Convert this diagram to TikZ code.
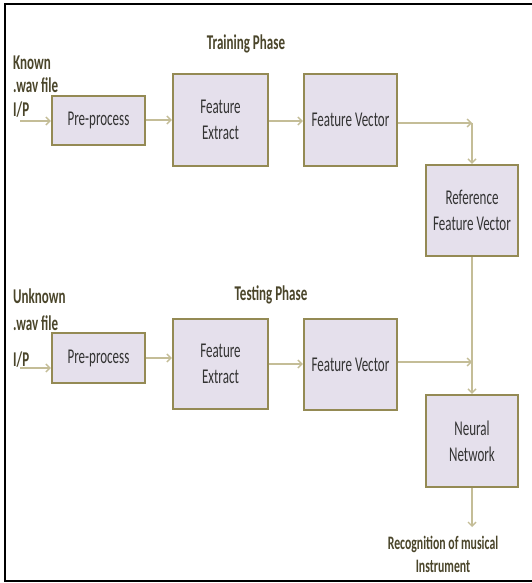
\documentclass[tikz,border=0pt]{standalone}
\usepackage{fontspec}
\usetikzlibrary{arrows.meta}
\newfontfamily\cf[FakeStretch=0.62]{Carlito}
\definecolor{boxfill}{HTML}{E5E0EC}
\definecolor{boxline}{HTML}{948A54}
\definecolor{arrline}{HTML}{C4BD97}
\definecolor{lbl}{HTML}{4A452A}
\definecolor{boxtxt}{HTML}{333333}
\tikzset{
  blk/.style={draw=boxline, line width=2.2pt, fill=boxfill, text=boxtxt,
    font=\cf\fontsize{21}{26}\selectfont, align=center, inner sep=0pt,
    minimum width=93pt},
  conn/.style={draw=arrline, line width=1.4pt, -{Straight Barb[length=4pt,width=8pt]}},
  lab/.style={text=lbl, font=\cf\bfseries\fontsize{21}{24}\selectfont, inner sep=0pt, anchor=base west},
  ttl/.style={text=lbl, font=\cf\bfseries\fontsize{21}{24}\selectfont, inner sep=0pt, anchor=base}
}
\begin{document}
\begin{tikzpicture}[x=1pt,y=-1pt]
\useasboundingbox (0,0) rectangle (532,583);
\fill[white] (0,0) rectangle (532,583);
\draw[black, line width=2.5pt] (532,4) -- (5,4) -- (5,581) -- (532,581);

% training
\node[ttl] (tp) at (246,50) {Training Phase};
\node[lab] (k1) at (13,70) {Known};
\node[lab] (k2) at (13,93) {.wav file};
\node[lab] (k3) at (13,117) {I/P};
\node[blk, minimum height=49pt] (pre1) at (98.5,120.5) {Pre-process};
\node[blk, minimum width=95pt, minimum height=92pt] (fe1) at (220.5,120) {Feature\\Extract};
\node[blk, minimum height=92pt] (fv1) at (350.5,120) {Feature Vector};
\node[blk, minimum width=92pt, minimum height=91pt] (ref) at (472,210.5) {Reference\\Feature Vector};
\coordinate (in1) at (20,121);
\coordinate (c1) at (472,123);
\draw[conn] (in1) -- (in1 -| pre1.west);
\draw[conn] (pre1.east |- 0,120) -- (fe1.west |- 0,120);
\draw[conn] (fe1.east |- 0,121) -- (fv1.west |- 0,121);
\draw[conn] (fv1.east |- c1) -- (c1);
\draw[conn] (c1) -- (ref.north);

% testing
\node[ttl] (sp) at (271,300) {Testing Phase};
\node[lab] (u1) at (13,303) {Unknown};
\node[lab] (u2) at (13,330) {.wav file};
\node[lab] (u3) at (13,366) {I/P};
\node[blk, minimum height=50pt] (pre2) at (98.5,358) {Pre-process};
\node[blk, minimum width=95pt, minimum height=90pt] (fe2) at (220.5,364) {Feature\\Extract};
\node[blk, minimum height=91pt] (fv2) at (350.5,364.5) {Feature Vector};
\node[blk, minimum width=92pt, minimum height=92pt] (nn) at (472,441) {Neural\\Network};
\coordinate (in2) at (20,368);
\coordinate (c2) at (472,362);
\draw[conn] (in2) -- (in2 -| pre2.west);
\draw[conn] (pre2.east |- 0,358) -- (fe2.west |- 0,358);
\draw[conn] (fe2.east |- 0,364) -- (fv2.west |- 0,364);
\draw[conn] (fv2.east |- c2) -- (c2);
\draw[conn] (ref.south) -- (nn.north);

\node[text=lbl, font=\cf\bfseries\fontsize{19}{23}\selectfont, align=center, inner sep=0pt, anchor=north] (out) at (443,536) {Recognition of musical\\Instrument};
\draw[conn] (nn.south) -- (472,527);
\end{tikzpicture}
\end{document}
